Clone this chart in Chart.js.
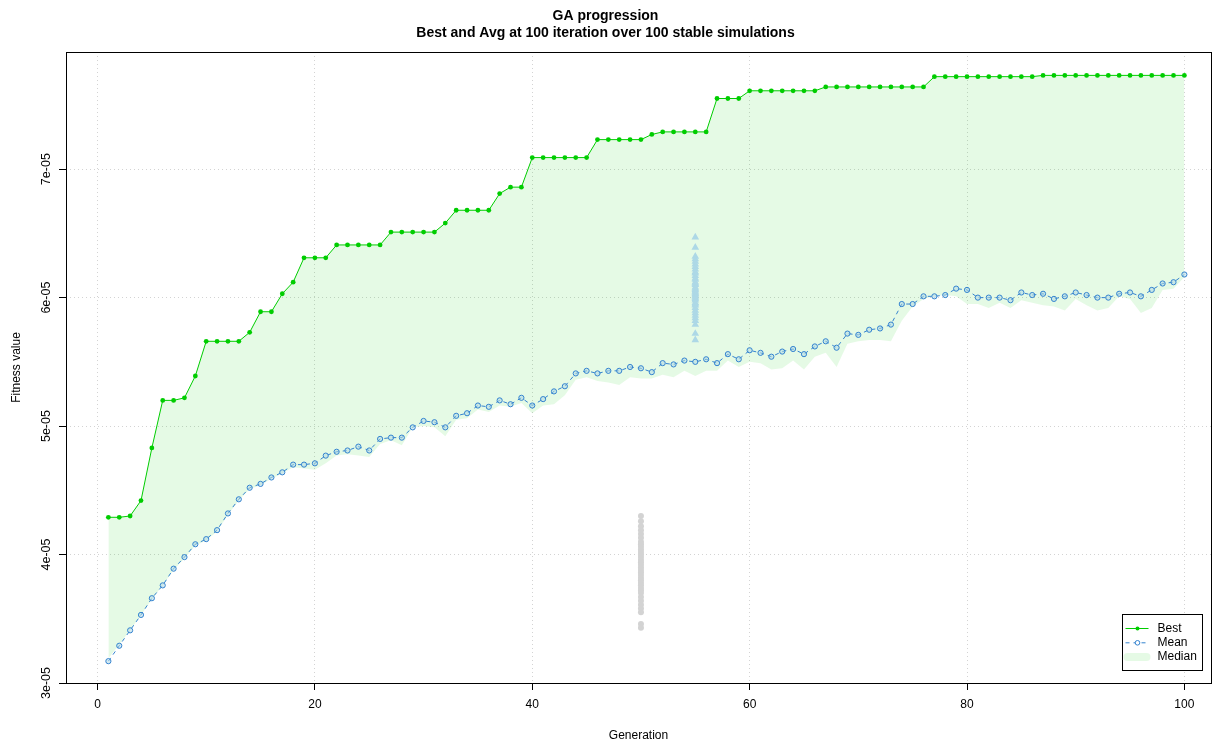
<!DOCTYPE html>
<html>
<head>
<meta charset="utf-8">
<title>GA progression</title>
<script src="https://cdn.jsdelivr.net/npm/chart.js@4.4.1/dist/chart.umd.min.js"></script>
<style>
  html, body { margin: 0; padding: 0; background: #fff; }
</style>
</head>
<body>
<canvas id="gaChart" width="1226" height="746"></canvas>
<script>
// values are in units of 1e-05 (the axis labels add the exponent)
const generations = Array.from({ length: 100 }, (_, i) => i + 1);

const bestValues = [
  4.29, 4.29, 4.30, 4.42, 4.83, 5.20, 5.20, 5.22, 5.39, 5.66,
  5.66, 5.66, 5.66, 5.73, 5.89, 5.89, 6.03, 6.12, 6.31, 6.31,
  6.31, 6.41, 6.41, 6.41, 6.41, 6.41, 6.51, 6.51, 6.51, 6.51,
  6.51, 6.58, 6.68, 6.68, 6.68, 6.68, 6.81, 6.86, 6.86, 7.09,
  7.09, 7.09, 7.09, 7.09, 7.09, 7.23, 7.23, 7.23, 7.23, 7.23,
  7.27, 7.29, 7.29, 7.29, 7.29, 7.29, 7.55, 7.55, 7.55, 7.61,
  7.61, 7.61, 7.61, 7.61, 7.61, 7.61, 7.64, 7.64, 7.64, 7.64,
  7.64, 7.64, 7.64, 7.64, 7.64, 7.64, 7.72, 7.72, 7.72, 7.72,
  7.72, 7.72, 7.72, 7.72, 7.72, 7.72, 7.73, 7.73, 7.73, 7.73,
  7.73, 7.73, 7.73, 7.73, 7.73, 7.73, 7.73, 7.73, 7.73, 7.73
];

const meanValues = [
  3.17, 3.29, 3.41, 3.53, 3.66, 3.76, 3.89, 3.98, 4.08, 4.12,
  4.19, 4.32, 4.43, 4.52, 4.55, 4.60, 4.64, 4.70, 4.70, 4.71,
  4.77, 4.80, 4.81, 4.84, 4.81, 4.90, 4.91, 4.91, 4.99, 5.04,
  5.03, 4.99, 5.08, 5.10, 5.16, 5.15, 5.20, 5.17, 5.22, 5.16,
  5.21, 5.27, 5.31, 5.41, 5.43, 5.41, 5.43, 5.43, 5.46, 5.45,
  5.42, 5.49, 5.48, 5.51, 5.50, 5.52, 5.49, 5.56, 5.52, 5.59,
  5.57, 5.54, 5.58, 5.60, 5.56, 5.62, 5.66, 5.61, 5.72, 5.71,
  5.75, 5.76, 5.79, 5.95, 5.95, 6.01, 6.01, 6.02, 6.07, 6.06,
  6.00, 6.00, 6.00, 5.98, 6.04, 6.02, 6.03, 5.99, 6.01, 6.04,
  6.02, 6.00, 6.00, 6.03, 6.04, 6.01, 6.06, 6.11, 6.12, 6.18
];

const medianValues = [
  3.19, 3.30, 3.41, 3.53, 3.65, 3.76, 3.88, 3.97, 4.07, 4.11,
  4.18, 4.31, 4.42, 4.51, 4.54, 4.59, 4.63, 4.68, 4.67, 4.66,
  4.71, 4.77, 4.78, 4.77, 4.76, 4.86, 4.89, 4.85, 4.99, 5.00,
  4.99, 4.92, 5.05, 5.06, 5.13, 5.11, 5.16, 5.15, 5.18, 5.10,
  5.16, 5.17, 5.24, 5.36, 5.38, 5.35, 5.34, 5.32, 5.38, 5.37,
  5.37, 5.40, 5.38, 5.43, 5.39, 5.43, 5.43, 5.51, 5.46, 5.50,
  5.49, 5.44, 5.45, 5.51, 5.44, 5.54, 5.57, 5.46, 5.64, 5.66,
  5.67, 5.67, 5.66, 5.82, 5.93, 5.99, 6.01, 6.02, 6.01, 5.95,
  5.95, 5.92, 5.96, 5.92, 5.98, 5.96, 5.94, 5.93, 5.90, 5.99,
  5.94, 5.90, 5.92, 6.01, 5.99, 5.88, 5.92, 6.06, 6.07, 6.16
];

// spread of the 100 simulations, drawn as vertical clouds
const bestSpreadGen = 55;
const bestSpread = [
  6.47, 6.39, 6.32, 6.30, 6.28, 6.26, 6.24, 6.22, 6.20, 6.19,
  6.17, 6.15, 6.14, 6.12, 6.11, 6.10, 6.08, 6.07, 6.06, 6.05,
  6.04, 6.03, 6.02, 6.01, 6.00, 5.99, 5.98, 5.96, 5.95, 5.94,
  5.92, 5.90, 5.88, 5.86, 5.84, 5.82, 5.79, 5.72, 5.67
];
const meanSpreadGen = 50;
const meanSpread = [
  4.30, 4.26, 4.22, 4.19, 4.16, 4.13, 4.10, 4.08, 4.06, 4.04,
  4.02, 4.00, 3.98, 3.96, 3.94, 3.92, 3.90, 3.88, 3.86, 3.84,
  3.82, 3.80, 3.78, 3.76, 3.74, 3.72, 3.70, 3.67, 3.64, 3.61,
  3.58, 3.55, 3.46, 3.43
];

const yTicks = [3, 4, 5, 6, 7];
const xTicks = [0, 20, 40, 60, 80, 100];

const fillGreen = 'rgba(0, 205, 0, 0.1)';
const bestColor = '#00CD00';
const meanColor = '#3483cf';

Chart.defaults.font.family = "'Liberation Sans', Arial, Helvetica, sans-serif";
Chart.defaults.font.size = 12;
Chart.defaults.color = '#000';

function toPoints(xs, ys) {
  return ys.map((y, i) => ({ x: xs[i], y: y }));
}

// R style frame round the plot region
const frameBox = {
  id: 'frameBox',
  afterDatasetsDraw(chart) {
    const { ctx, chartArea: a } = chart;
    ctx.save();
    ctx.strokeStyle = '#000';
    ctx.lineWidth = 1;
    ctx.strokeRect(Math.round(a.left) + 0.5, Math.round(a.top) + 0.5,
      Math.round(a.right - a.left), Math.round(a.bottom - a.top));
    ctx.restore();
  }
};

// legend box in the bottom right corner
const legendBox = {
  id: 'legendBox',
  afterDraw(chart) {
    const { ctx, chartArea: a } = chart;
    const x0 = Math.round(a.right) - 88.5, y0 = Math.round(a.bottom) - 68.5;
    ctx.save();
    ctx.fillStyle = '#fff';
    ctx.fillRect(x0, y0, 80, 56);
    ctx.strokeStyle = '#000';
    ctx.lineWidth = 1;
    ctx.strokeRect(x0, y0, 80, 56);

    ctx.font = "12px 'Liberation Sans', Arial, sans-serif";
    ctx.fillStyle = '#000';
    ctx.textBaseline = 'middle';
    const rows = ['Best', 'Mean', 'Median'];
    rows.forEach((t, i) => ctx.fillText(t, x0 + 35, y0 + 14 + i * 14.3));

    // Best
    let y = y0 + 14;
    ctx.strokeStyle = bestColor;
    ctx.beginPath(); ctx.moveTo(x0 + 3, y); ctx.lineTo(x0 + 26, y); ctx.stroke();
    ctx.fillStyle = bestColor;
    ctx.beginPath(); ctx.arc(x0 + 15, y, 2, 0, Math.PI * 2); ctx.fill();
    // Mean
    y = y0 + 28.3;
    ctx.strokeStyle = meanColor;
    ctx.setLineDash([4, 4]);
    ctx.beginPath(); ctx.moveTo(x0 + 3, y); ctx.lineTo(x0 + 26, y); ctx.stroke();
    ctx.setLineDash([]);
    ctx.fillStyle = '#fff';
    ctx.beginPath(); ctx.arc(x0 + 15, y, 2.3, 0, Math.PI * 2); ctx.fill(); ctx.stroke();
    // Median
    y = y0 + 42.6;
    ctx.fillStyle = fillGreen;
    ctx.beginPath();
    ctx.roundRect(x0 + 1, y - 4, 27, 8, 4);
    ctx.fill();
    ctx.restore();
  }
};

new Chart(document.getElementById('gaChart'), {
  type: 'line',
  data: {
    datasets: [
      {
        label: 'Best',
        data: toPoints(generations, bestValues),
        borderColor: bestColor,
        backgroundColor: fillGreen,
        borderWidth: 1,
        pointRadius: 2.4,
        pointBackgroundColor: bestColor,
        pointBorderWidth: 0,
        fill: { target: 2 }
      },
      {
        label: 'Mean',
        data: toPoints(generations, meanValues),
        borderColor: meanColor,
        borderWidth: 1,
        borderDash: [4, 4],
        pointRadius: 2.6,
        pointBorderColor: meanColor,
        pointBackgroundColor: 'rgba(173,216,230,0.5)',
        pointBorderWidth: 1,
        fill: false
      },
      {
        label: 'Median',
        data: toPoints(generations, medianValues),
        borderWidth: 0,
        pointRadius: 0,
        fill: false
      },
      {
        label: 'best spread',
        data: bestSpread.map(v => ({ x: bestSpreadGen, y: v })),
        showLine: false,
        pointStyle: 'triangle',
        pointRadius: 4.4,
        pointBackgroundColor: '#ADD8E6',
        pointBorderColor: '#ADD8E6',
        pointBorderWidth: 0,
        fill: false
      },
      {
        label: 'mean spread',
        data: meanSpread.map(v => ({ x: meanSpreadGen, y: v })),
        showLine: false,
        pointRadius: 3,
        pointBackgroundColor: '#D3D3D3',
        pointBorderColor: '#D3D3D3',
        pointBorderWidth: 0,
        fill: false
      }
    ]
  },
  options: {
    responsive: false,
    animation: false,
    layout: { padding: { left: 0, right: 15, top: 0, bottom: 0 } },
    plugins: {
      legend: { display: false },
      tooltip: { enabled: false },
      filler: { drawTime: 'beforeDatasetsDraw' },
      title: {
        display: true,
        text: ['GA progression', 'Best and Avg at 100 iteration over 100 stable simulations'],
        font: { size: 14, weight: 'bold' },
        color: '#000',
        padding: { top: 8, bottom: 10.4 },
        lineHeight: 1.2
      }
    },
    scales: {
      x: {
        type: 'linear',
        min: -2.9,
        max: 102.45,
        afterBuildTicks: s => { s.ticks = xTicks.map(v => ({ value: v })); },
        afterFit: s => { s.height = 63; },
        ticks: { padding: 7, maxRotation: 0, font: { size: 12 } },
        grid: { color: '#D3D3D3', lineWidth: 1, tickColor: '#000', tickLength: 7, tickBorderDash: [] },
        border: { display: false, dash: [1, 3] },
        title: { display: true, text: 'Generation', font: { size: 12 }, padding: { top: 0, bottom: 3 } }
      },
      y: {
        type: 'linear',
        min: 3,
        max: 7.912,
        afterBuildTicks: s => { s.ticks = yTicks.map(v => ({ value: v })); },
        afterFit: s => { s.width = 66; },
        ticks: {
          minRotation: 90,
          maxRotation: 90,
          crossAlign: 'center',
          padding: -4,
          font: { size: 12.5 },
          callback: v => v + 'e-05'
        },
        grid: { color: '#D3D3D3', lineWidth: 1, tickColor: '#000', tickLength: 7, tickBorderDash: [] },
        border: { display: false, dash: [1, 3] },
        title: { display: true, text: 'Fitness value', font: { size: 12 }, padding: { top: 9, bottom: 0 } }
      }
    }
  },
  plugins: [frameBox, legendBox]
});
</script>
</body>
</html>
